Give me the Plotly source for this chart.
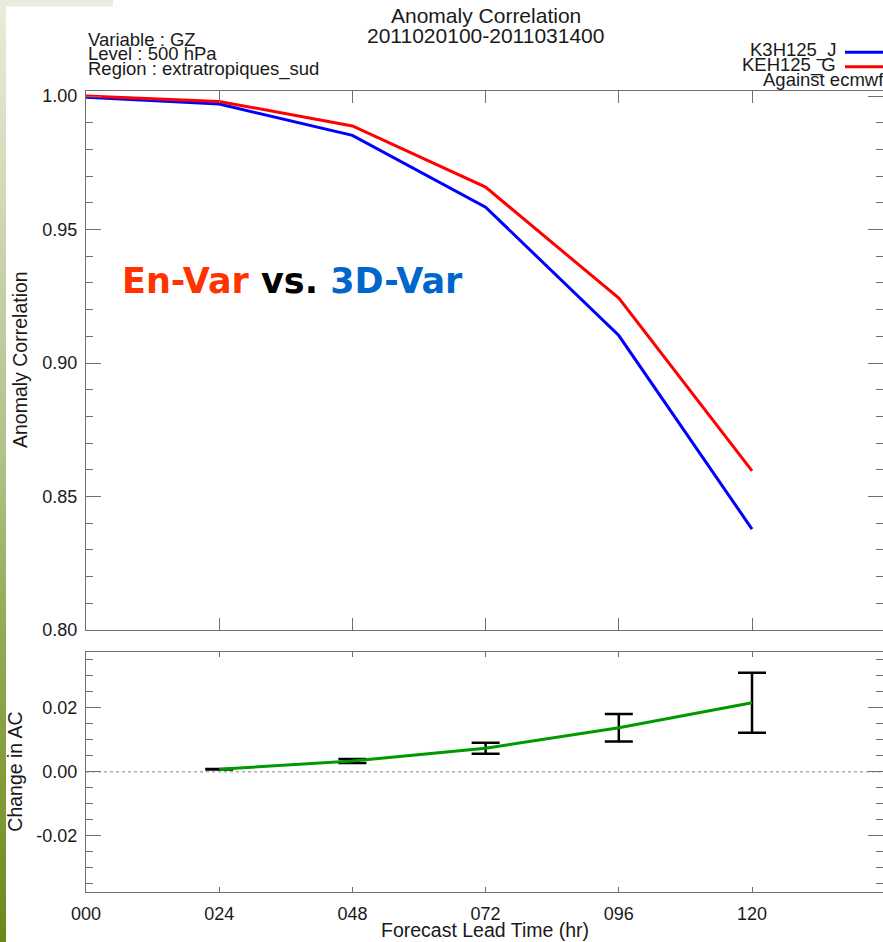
import plotly.graph_objects as go

# ---------------------------------------------------------------- data
lead_hours = [0, 24, 48, 72, 96, 120]
ac_k3h125_j = [0.9996, 0.9970, 0.9853, 0.9584, 0.9103, 0.8378]
ac_keh125_g = [1.0000, 0.9980, 0.9888, 0.9659, 0.9243, 0.8596]

diff_hours = [24, 48, 72, 96, 120]
ac_change = [0.0008, 0.0034, 0.0074, 0.0138, 0.0216]
ac_change_err = [0.0001, 0.0006, 0.0017, 0.0043, 0.0094]

x_tick_vals = [0, 24, 48, 72, 96, 120]
x_tick_text = ["000", "024", "048", "072", "096", "120"]
ac_tick_vals = [0.80, 0.85, 0.90, 0.95, 1.00]
change_tick_vals = [-0.02, 0.00, 0.02]
change_tick_text = ["-0.02", "0.00", "0.02"]

series_names = ["K3H125_J", "KEH125_G"]
series_colors = ["#0000ff", "#ff0000"]
change_color = "#009900"

# ---------------------------------------------------------------- geometry helpers
W, H = 883, 942


def px(x):
    return x / W


def py(y):
    return 1 - y / H


FONT = "Liberation Sans, Arial, Helvetica, sans-serif"
TXT = "#1a1a1a"
AX = "#6f6f6f"

fig = go.Figure()

# upper panel: anomaly correlation
for name, vals, col in zip(series_names, [ac_k3h125_j, ac_keh125_g], series_colors):
    fig.add_trace(go.Scatter(x=lead_hours, y=vals, name=name, mode="lines",
                             line=dict(color=col, width=3),
                             xaxis="x", yaxis="y", showlegend=False))

# lower panel: change in AC with error bars
fig.add_trace(go.Scatter(x=diff_hours, y=ac_change, mode="markers",
                         marker=dict(size=1, color="black", opacity=0),
                         error_y=dict(type="data", array=ac_change_err, visible=True,
                                      color="black", thickness=2.5, width=14),
                         xaxis="x2", yaxis="y2", showlegend=False))
fig.add_trace(go.Scatter(x=diff_hours, y=ac_change, mode="lines",
                         line=dict(color=change_color, width=3),
                         xaxis="x2", yaxis="y2", showlegend=False))

x_dom = [px(86), 1.0]
x_rng = [0, 143.6]

common_axis = dict(showline=True, linecolor=AX, linewidth=1.2, mirror="allticks",
                   ticks="inside", tickcolor=AX, tickwidth=1.2,
                   showgrid=False, zeroline=False, automargin=False,
                   tickfont=dict(family=FONT, size=18, color=TXT))

fig.update_layout(
    width=W, height=H,
    margin=dict(l=0, r=0, t=0, b=0, pad=0, autoexpand=False),
    paper_bgcolor="white", plot_bgcolor="white",
    xaxis=dict(domain=x_dom, range=x_rng, anchor="y", tickmode="array",
               tickvals=x_tick_vals, showticklabels=False, ticklen=12,
               **common_axis),
    yaxis=dict(domain=[py(630), py(91)], range=[0.80, 1.0019], anchor="x",
               tickmode="array", tickvals=ac_tick_vals, tickformat=".2f", ticklen=15,
               ticklabelstandoff=4,
               minor=dict(tickmode="linear", tick0=0.80, dtick=0.01, ticklen=7,
                          ticks="inside", tickcolor=AX, tickwidth=1.2),
               **common_axis),
    xaxis2=dict(domain=x_dom, range=x_rng, anchor="y2", tickmode="array",
                tickvals=x_tick_vals, ticktext=x_tick_text, ticklen=5,
                ticklabelstandoff=6, **common_axis),
    yaxis2=dict(domain=[py(891.7), py(652)], range=[-0.0375, 0.0375], anchor="x2",
                tickmode="array", tickvals=change_tick_vals, ticktext=change_tick_text,
                ticklen=15, ticklabelstandoff=4,
                minor=dict(tickmode="linear", tick0=0.0, dtick=0.005, ticklen=7,
                           ticks="inside", tickcolor=AX, tickwidth=1.2),
                **common_axis),
)

shapes = []

# slide background: olive gradient strip on the left and pale band at the top
grad_stops = [(0, (0xe9, 0xec, 0xdc)), (100, (0xdd, 0xe3, 0xc8)), (300, (0xc4, 0xce, 0xa4)),
              (460, (0xb1, 0xc1, 0x87)), (600, (0x98, 0xad, 0x5c)), (800, (0x80, 0x9a, 0x35)),
              (942, (0x6c, 0x88, 0x1c))]


def grad_color(y):
    for (y0, c0), (y1, c1) in zip(grad_stops[:-1], grad_stops[1:]):
        if y0 <= y <= y1:
            t = (y - y0) / (y1 - y0)
            c = [round(a + (b - a) * t) for a, b in zip(c0, c1)]
            return "rgb(%d,%d,%d)" % tuple(c)
    return "rgb(108,136,28)"


step = 6
for y in range(0, H, step):
    shapes.append(dict(type="rect", xref="paper", yref="paper", layer="below",
                       x0=0, x1=px(6), y0=py(min(y + step, H)), y1=py(y),
                       fillcolor=grad_color(y + step / 2), line=dict(width=0)))
shapes.append(dict(type="rect", xref="paper", yref="paper", layer="below",
                   x0=0, x1=px(113), y0=py(6.5), y1=1,
                   fillcolor="#e9ecdd", line=dict(width=0)))

# zero reference line in the lower panel
shapes.append(dict(type="line", xref="x2 domain", yref="y2", x0=0, x1=1, y0=0, y1=0,
                   line=dict(color="#808080", width=1, dash="dot"), layer="below"))

# legend line samples
for yy, col in zip([52.3, 66.7], series_colors):
    shapes.append(dict(type="line", xref="paper", yref="paper",
                       x0=px(845), x1=px(885), y0=py(yy), y1=py(yy),
                       line=dict(color=col, width=3)))

fig.update_layout(shapes=shapes)


def label(text, x, y, size, xanchor="center", angle=0, color=TXT, bold=False,
          family=FONT):
    fig.add_annotation(text=text, x=px(x), y=py(y), xref="paper", yref="paper",
                       xanchor=xanchor, yanchor="middle", showarrow=False,
                       textangle=angle,
                       font=dict(family=family, size=size, color=color,
                                 weight="bold" if bold else "normal"))


# title block
label("Anomaly Correlation", 486, 15.3, 21)
label("2011020100-2011031400", 486, 35.3, 21)
label("Variable : GZ", 86, 39.2, 18.5, xanchor="left")
label("Level : 500 hPa", 86, 53.8, 18.5, xanchor="left")
label("Region : extratropiques_sud", 86, 68.5, 18.5, xanchor="left")

# legend text
label(series_names[0], 837.7, 50.2, 18.5, xanchor="right")
label(series_names[1], 837.7, 65.2, 18.5, xanchor="right")
label("Against ecmwf", 761, 79.5, 18.5, xanchor="left")

# axis titles
label("Anomaly Correlation", 20, 360, 19.5, angle=-90)
label("Change in AC", 15, 771.7, 19.5, angle=-90)
label("Forecast Lead Time (hr)", 484.5, 929.5, 19.5)

# comparison caption
label('<span style="color:#ff3300">En-Var</span> vs. '
      '<span style="color:#0066cc">3D-Var</span>',
      292.5, 280.5, 35, color="#000000", bold=True,
      family="DejaVu Sans, Liberation Sans, Arial, sans-serif")

fig.write_html("out.html")
